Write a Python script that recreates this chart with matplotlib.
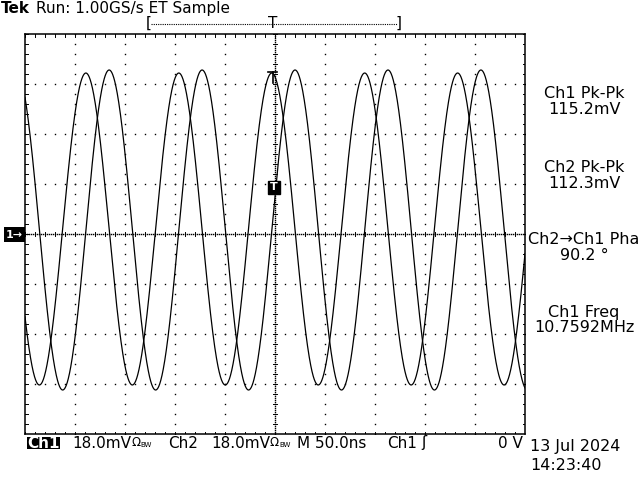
import numpy as np
import matplotlib
matplotlib.use("Agg")
import matplotlib.pyplot as plt
from matplotlib.patches import Rectangle

# scope settings
volts_per_div = 18.0      # mV/div, both channels
time_per_div = 50.0       # ns/div
n_xdiv, n_ydiv = 10, 8

# measurements shown on the right of the screen
ch1_pkpk = 115.2          # mV
ch2_pkpk = 112.3          # mV
ch1_freq = 10.7592        # MHz
phase_ch2_ch1 = 90.2      # deg
ch1_offset = 1.44         # mV, trace centre above ground marker
ch2_offset = 1.80
ch1_zero_time = -3.2      # ns, rising zero crossing of Ch1

meas_labels = ["Ch1 Pk-Pk", "Ch2 Pk-Pk", "Ch2\u2192Ch1 Pha", "Ch1 Freq"]
meas_values = ["115.2mV", "112.3mV", "90.2 \u00b0", "10.7592MHz"]

t = np.linspace(-250, 250, 2001)
period = 1000.0 / ch1_freq
ch1 = ch1_offset + ch1_pkpk / 2 * np.sin(2 * np.pi * (t - ch1_zero_time) / period)
ch2 = ch2_offset + ch2_pkpk / 2 * np.sin(2 * np.pi * (t - ch1_zero_time) / period
                                         + np.deg2rad(phase_ch2_ch1))

fig = plt.figure(figsize=(6.4, 4.8), dpi=100)
fig.patch.set_facecolor("white")

# pixel overlay for the screen text
ov = fig.add_axes([0, 0, 1, 1])
ov.set_xlim(0, 640)
ov.set_ylim(480, 0)
ov.axis("off")

# graticule axes: 500x400 px at (25, 34)
ax = fig.add_axes([25 / 640, 46 / 480, 500 / 640, 400 / 480])
xmax = time_per_div * n_xdiv / 2
ymax = volts_per_div * n_ydiv / 2
ax.set_xlim(-xmax, xmax)
ax.set_ylim(-ymax, ymax)
ax.set_xticks([])
ax.set_yticks([])
for s in ax.spines.values():
    s.set_linewidth(1.1)
    s.set_color("black")

dx = time_per_div / 5
dy = volts_per_div / 5
dot = dict(ls="none", marker="s", ms=1.0, mew=0, color="black")

# dotted division lines
xs_minor = np.arange(-xmax, xmax + 0.1, dx)
ys_minor = np.arange(-ymax, ymax + 0.1, dy)
for k in range(1, n_xdiv):
    xv = -xmax + k * time_per_div
    if xv != 0:
        ax.plot(np.full_like(ys_minor, xv), ys_minor, **dot)
for k in range(1, n_ydiv):
    yv = -ymax + k * volts_per_div
    if yv != 0:
        ax.plot(xs_minor, np.full_like(xs_minor, yv), **dot)

# centre crosshair: fine dots plus small ticks
xs_fine = np.arange(-xmax, xmax + 0.1, 2)
ys_fine = np.arange(-ymax, ymax + 0.1, 0.72)
ax.plot(xs_fine, np.zeros_like(xs_fine), **dot)
ax.plot(np.zeros_like(ys_fine), ys_fine, **dot)
for xv in xs_minor:
    ax.plot([xv, xv], [-0.8, 0.8], color="black", lw=0.7)
for yv in ys_minor:
    ax.plot([-2, 2], [yv, yv], color="black", lw=0.7)

# border ticks
for xv in xs_minor:
    ax.plot([xv, xv], [ymax, ymax - 0.9], color="black", lw=0.7)
    ax.plot([xv, xv], [-ymax, -ymax + 0.9], color="black", lw=0.7)
for yv in ys_minor:
    ax.plot([-xmax, -xmax + 2.5], [yv, yv], color="black", lw=0.7)
    ax.plot([xmax, xmax - 2.5], [yv, yv], color="black", lw=0.7)

# traces
ax.plot(t, ch1, color="black", lw=0.9)
ax.plot(t, ch2, color="black", lw=0.9)

# trigger marker on trace and trigger level box
ax.plot([-7, 2], [58.3, 58.3], color="black", lw=1.2)
ax.plot([-2.5, -2.5], [58.3, 54.5], color="black", lw=1.2)
ax.add_patch(Rectangle((-7, 14.4), 12, 4.7, facecolor="black", edgecolor="black"))
ax.text(-1, 16.8, "T", color="white", fontsize=8, fontweight="bold",
        ha="center", va="center")

# header
ov.text(1, 8.5, "Tek", fontsize=11, fontweight="bold", va="center", ha="left")
ov.text(36, 8.5, "Run: 1.00GS/s ET Sample", fontsize=11, va="center", ha="left")
ov.plot([151, 397], [24, 24], color="black", lw=0.8, ls=(0, (1, 1)))
ov.text(149, 23, "[", fontsize=11, va="center", ha="center")
ov.text(399, 23, "]", fontsize=11, va="center", ha="center")
ov.text(273, 23, "T", fontsize=11, va="center", ha="center")

# right-hand measurements
meas_y = [93, 167, 240, 312]
for lab, val, yy in zip(meas_labels, meas_values, meas_y):
    ov.text(584, yy, lab, fontsize=11.5, ha="center", va="center")
    ov.text(584, yy + 16, val, fontsize=11.5, ha="center", va="center")

# ground marker and trigger level arrow
ov.add_patch(Rectangle((4, 227), 21, 15, facecolor="black"))
ov.text(14, 234.5, "1\u2192", color="white", fontsize=8, fontweight="bold",
        ha="center", va="center")
ov.fill([512, 519, 519], [232, 228, 236], color="black")
ov.plot([519, 524], [232, 232], color="black", lw=1)


def volts_label(x0, text):
    # "18.0mV" followed by the 50 ohm sign and a small BW
    t0 = ov.text(x0, 443, text, fontsize=11, ha="left", va="center")
    om = ov.annotate("\u03a9", xy=(1, 0.5), xycoords=t0, fontsize=8.5,
                     ha="left", va="center")
    ov.annotate("BW", xy=(1, 0.35), xycoords=om, fontsize=5,
                ha="left", va="center")


# bottom status line
ov.add_patch(Rectangle((27, 437), 33, 12, facecolor="black"))
ov.text(43.5, 443, "Ch1", color="white", fontsize=11, fontweight="bold",
        ha="center", va="center")
volts_label(72, "18.0mV")
ov.text(168, 443, "Ch2", fontsize=11, ha="left", va="center")
volts_label(211, "18.0mV")
ov.text(297, 443, "M 50.0ns", fontsize=11, ha="left", va="center")
ov.text(387, 443, "Ch1", fontsize=11, ha="left", va="center")
ov.text(421, 443, "\u0283", fontsize=11, ha="left", va="center")
ov.text(523, 443, "0 V", fontsize=11, ha="right", va="center")
ov.text(530, 446, "13 Jul 2024", fontsize=11.5, ha="left", va="center")
ov.text(530, 466, "14:23:40", fontsize=11.5, ha="left", va="center")

fig.savefig("out.png", dpi=100, facecolor="white")
